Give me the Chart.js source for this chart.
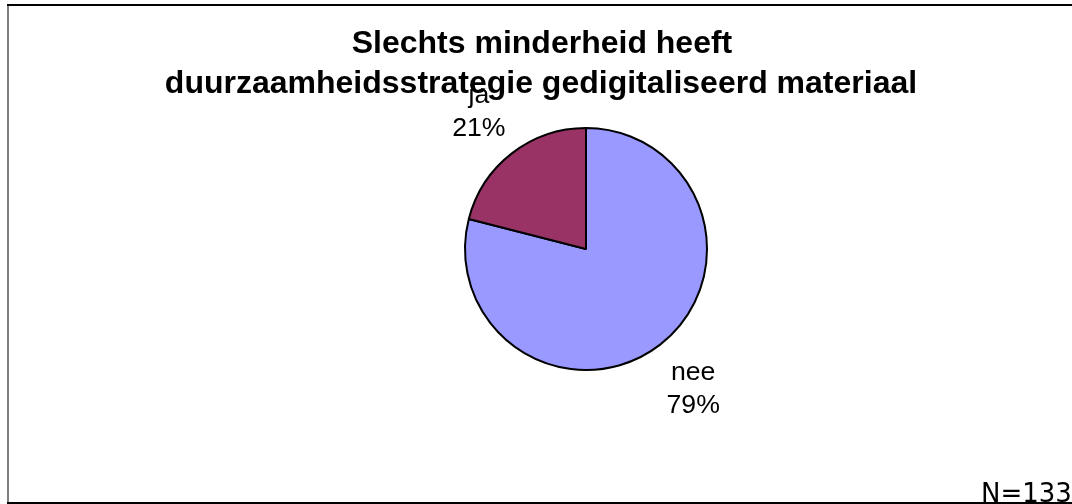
<!DOCTYPE html>
<html>
<head>
<meta charset="utf-8">
<script src="https://cdn.jsdelivr.net/npm/chart.js@4/dist/chart.umd.min.js"></script>
<style>
html,body{margin:0;padding:0;background:#fff;overflow:hidden}
#wrap{position:relative;width:1072px;height:504px}
canvas{display:block}
</style>
</head>
<body>
<div id="wrap"><canvas id="c" width="1072" height="504"></canvas></div>
<script>
const titleLines = ["Slechts minderheid heeft", "duurzaamheidsstrategie gedigitaliseerd materiaal"];
const categories = ["nee", "ja"];
const values = [79, 21];
const percentLabels = ["79%", "21%"];
const colors = ["#9999FF", "#993366"];
const footnote = "N=133";

const framePlugin = {
  id: 'frame',
  beforeDraw(chart) {
    const ctx = chart.ctx;
    ctx.save();
    ctx.fillStyle = '#fff';
    ctx.fillRect(0, 0, chart.width, chart.height);
    ctx.restore();
  },
  afterDraw(chart) {
    const ctx = chart.ctx;
    ctx.save();
    ctx.fillStyle = '#000';
    ctx.textAlign = 'center';
    ctx.textBaseline = 'alphabetic';
    ctx.font = 'bold 32px "Liberation Sans", Arial, sans-serif';
    ctx.fillText(titleLines[0], 542, 53);
    ctx.fillText(titleLines[1], 541, 93);
    // slice labels
    const meta = chart.getDatasetMeta(0);
    ctx.font = '26.67px "Liberation Sans", Arial, sans-serif';
    meta.data.forEach((arc, i) => {
      const p = arc.getProps(['x','y','startAngle','endAngle','outerRadius'], true);
      const mid = (p.startAngle + p.endAngle) / 2;
      const r = p.outerRadius * 1.445;
      const x = p.x + Math.cos(mid) * r;
      const y = p.y + Math.sin(mid) * r;
      ctx.fillText(categories[i], x, y - 7.5);
      ctx.fillText(percentLabels[i], x, y + 25.5);
    });
    ctx.textAlign = 'left';
    ctx.font = '26px "DejaVu Sans", Verdana, sans-serif';
    ctx.fillText(footnote, 981, 502);
    // frame
    ctx.strokeStyle = '#808080';
    ctx.lineWidth = 2;
    ctx.beginPath(); ctx.moveTo(8, 5); ctx.lineTo(8, 503); ctx.stroke();
    ctx.strokeStyle = '#000';
    ctx.beginPath(); ctx.moveTo(7, 5); ctx.lineTo(1072, 5); ctx.stroke();
    ctx.beginPath(); ctx.moveTo(7, 503); ctx.lineTo(1072, 503); ctx.stroke();
    ctx.restore();
  }
};

new Chart(document.getElementById('c'), {
  type: 'pie',
  data: {
    labels: categories,
    datasets: [{
      data: values,
      backgroundColor: colors,
      borderColor: '#000',
      borderWidth: 2
    }]
  },
  options: {
    responsive: false,
    animation: false,
    radius: 121,
    layout: { padding: { left: 100, right: 0, top: 0, bottom: 6 } },
    plugins: {
      legend: { display: false },
      title: { display: false },
      tooltip: { enabled: false }
    }
  },
  plugins: [framePlugin]
});
</script>
</body>
</html>
